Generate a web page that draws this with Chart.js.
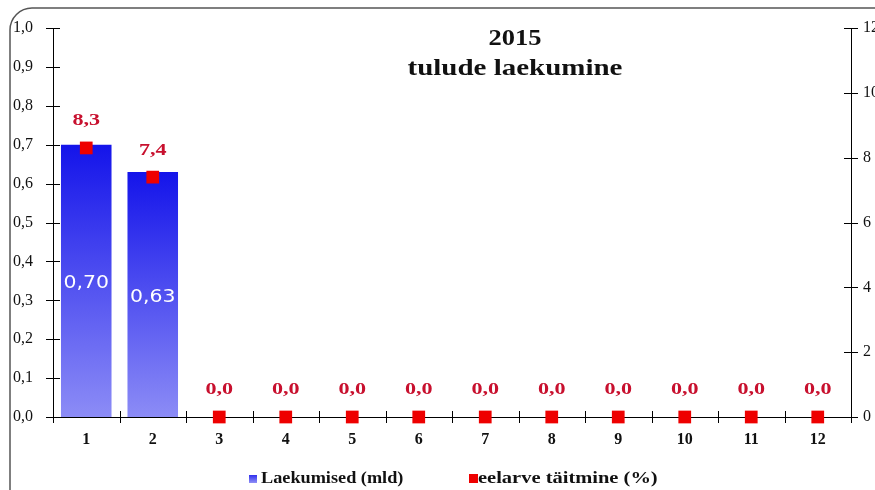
<!DOCTYPE html>
<html><head><meta charset="utf-8">
<script src="https://cdn.jsdelivr.net/npm/chart.js@4"></script>
<style>html,body{margin:0;padding:0;background:#fff;overflow:hidden}#wrap{width:875px;height:490px;position:relative}</style>
</head><body><div id="wrap"><canvas id="c" width="875" height="490"></canvas></div>
<script>
const months = ['1','2','3','4','5','6','7','8','9','10','11','12'];
const receipts = [0.70, 0.63, null, null, null, null, null, null, null, null, null, null];
const execution = [8.3, 7.4, 0, 0, 0, 0, 0, 0, 0, 0, 0, 0];
const leftTicks = [0,0.1,0.2,0.3,0.4,0.5,0.6,0.7,0.8,0.9,1.0];
const rightTicks = [0,2,4,6,8,10,12];
const titleLines = ['2015','tulude laekumine'];
const seriesNames = ['Laekumised (mld)','eelarve täitmine (%)'];

const serif = '"Liberation Serif", "Times New Roman", serif';
const fmt = (v, d) => v.toFixed(d).replace('.', ',');

function barGradient(ctx) {
  const chart = ctx.chart;
  const ca = chart.chartArea;
  if (!ca || ctx.type !== 'data' || ctx.raw == null) return '#4040f0';
  const y = chart.scales.y;
  const top = y.getPixelForValue(ctx.raw);
  const bot = y.getPixelForValue(0);
  const g = chart.ctx.createLinearGradient(0, top, 0, bot);
  g.addColorStop(0, '#1414ea');
  g.addColorStop(1, '#8c8cf6');
  return g;
}

function stretched(c, text, x, y, sx) {
  c.save();
  c.translate(x, y);
  c.scale(sx, 1);
  c.fillText(text, 0, 0);
  c.restore();
}

const decor = {
  id: 'decor',
  beforeDraw(chart) {
    const c = chart.ctx;
    c.save();
    c.strokeStyle = '#555';
    c.lineWidth = 1.5;
    c.beginPath();
    c.roundRect(10, 8, 900, 520, 22);
    c.stroke();
    c.restore();
  },
  afterDraw(chart) {
    const c = chart.ctx;
    const ca = chart.chartArea;
    const x = chart.scales.x, y = chart.scales.y, y2 = chart.scales.y2;
    c.save();
    c.strokeStyle = '#000';
    c.lineWidth = 1;
    leftTicks.forEach(v => { const p = Math.round(y.getPixelForValue(v)) + 0.5; c.beginPath(); c.moveTo(ca.left - 7, p); c.lineTo(ca.left + 7, p); c.stroke(); });
    rightTicks.forEach(v => { const p = Math.round(y2.getPixelForValue(v)) + 0.5; c.beginPath(); c.moveTo(ca.right - 7, p); c.lineTo(ca.right + 7, p); c.stroke(); });
    const w = (ca.right - ca.left) / months.length;
    for (let i = 0; i <= months.length; i++) {
      const p = Math.round(x.getPixelForValue(i) - w / 2) + 0.5;
      c.beginPath(); c.moveTo(p, ca.bottom - 6); c.lineTo(p, ca.bottom + 6); c.stroke();
    }
    c.textAlign = 'center';
    c.textBaseline = 'middle';
    const m1 = chart.getDatasetMeta(1);
    c.fillStyle = '#c8102e';
    c.font = 'bold 17px ' + serif;
    m1.data.forEach((pt, i) => { stretched(c, fmt(execution[i], 1), pt.x, pt.y - 27, 1.3); });
    const m0 = chart.getDatasetMeta(0);
    c.fillStyle = '#ffffff';
    c.font = '17px "DejaVu Sans", Verdana, sans-serif';
    m0.data.forEach((b, i) => {
      if (receipts[i] == null) return;
      stretched(c, fmt(receipts[i], 2), b.x, (b.y + b.base) / 2 + 3, 1.2);
    });
    c.fillStyle = '#111';
    c.font = 'bold 23px ' + serif;
    stretched(c, titleLines[0], 515, 39, 1.15);
    stretched(c, titleLines[1], 515, 69, 1.26);
    c.font = 'bold 16px ' + serif;
    c.textAlign = 'left';
    const ly = 479;
    const g = c.createLinearGradient(0, ly - 4, 0, ly + 4);
    g.addColorStop(0, '#3030ee'); g.addColorStop(1, '#9090f6');
    c.fillStyle = g;
    c.fillRect(249, ly - 4, 8, 8);
    c.fillStyle = '#111';
    stretched(c, seriesNames[0], 261, ly, 1.14);
    c.fillStyle = '#ee0000';
    c.fillRect(469, ly - 5, 9, 9);
    c.fillStyle = '#111';
    stretched(c, seriesNames[1], 478, ly, 1.28);
    c.restore();
  }
};

new Chart(document.getElementById('c'), {
  data: {
    labels: months,
    datasets: [
      { type: 'bar', label: seriesNames[0], data: receipts, yAxisID: 'y',
        backgroundColor: barGradient, borderWidth: 0,
        barPercentage: 0.76, categoryPercentage: 1.0, order: 2 },
      { type: 'line', label: seriesNames[1], data: execution, yAxisID: 'y2',
        showLine: false, pointStyle: 'rect', pointRadius: 9, pointHoverRadius: 9,
        pointBackgroundColor: '#ee0000', pointBorderColor: '#ee0000', pointBorderWidth: 0,
        backgroundColor: '#ee0000', borderColor: '#ee0000', order: 1, clip: false }
    ]
  },
  options: {
    responsive: false,
    animation: false,
    devicePixelRatio: 1,
    layout: { padding: { top: 28, left: 0, right: 0, bottom: 0 } },
    plugins: { legend: { display: false }, tooltip: { enabled: false }, title: { display: false } },
    scales: {
      x: {
        offset: true,
        grid: { display: false },
        border: { display: true, color: '#000', width: 1 },
        ticks: { color: '#111', font: { family: serif, size: 16, weight: 'bold' }, padding: 5, maxRotation: 0 },
        afterFit: s => { s.height = 73; }
      },
      y: {
        position: 'left', min: 0, max: 1,
        grid: { display: false },
        border: { display: true, color: '#000', width: 1 },
        afterBuildTicks: s => { s.ticks = leftTicks.map(v => ({ value: v })); },
        ticks: { color: '#111', font: { family: serif, size: 16 }, padding: 12, callback: v => fmt(v, 1) },
        afterFit: s => { s.width = 53; }
      },
      y2: {
        position: 'right', min: 0, max: 12,
        grid: { display: false },
        border: { display: true, color: '#000', width: 1 },
        afterBuildTicks: s => { s.ticks = rightTicks.map(v => ({ value: v })); },
        ticks: { color: '#111', font: { family: serif, size: 16 }, padding: 4, callback: v => String(v) },
        afterFit: s => { s.width = 24; }
      }
    }
  },
  plugins: [decor]
});
</script></body></html>
